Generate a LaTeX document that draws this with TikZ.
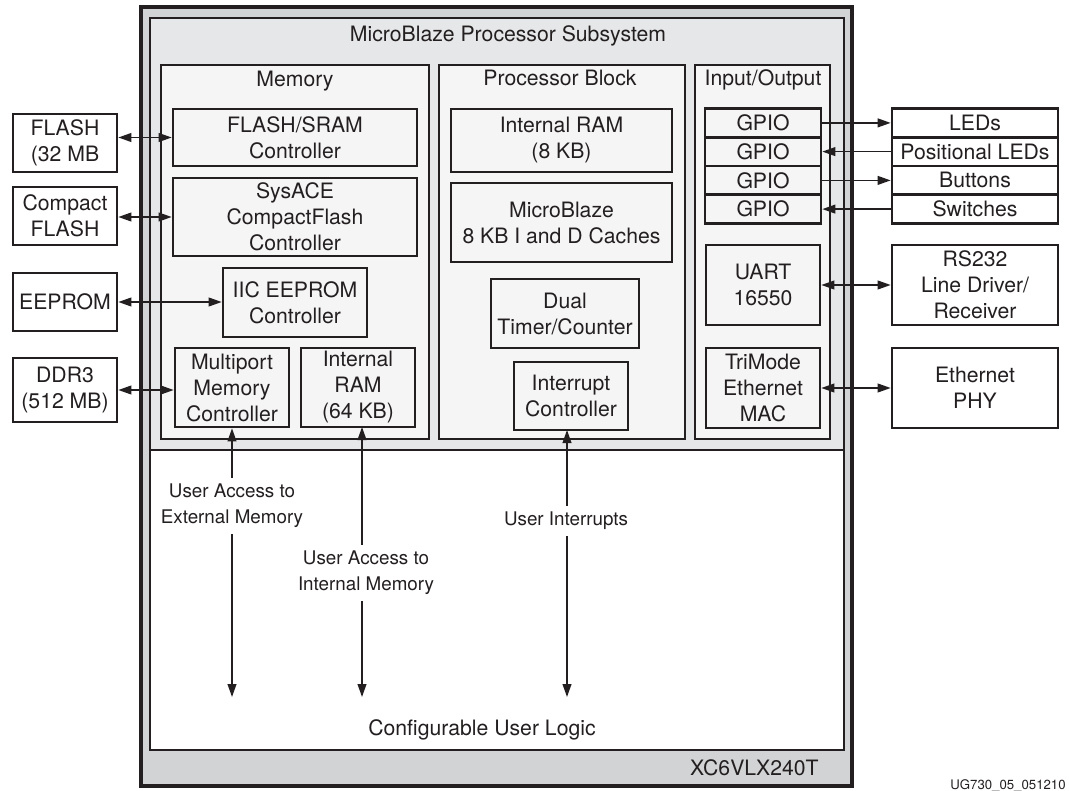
\documentclass[tikz,border=0pt]{standalone}
\usepackage{fontspec}
\setmainfont{TeX Gyre Heros}
\usetikzlibrary{arrows.meta}
\definecolor{lc}{HTML}{231F20}
\definecolor{outerg}{HTML}{D1D3D4}
\definecolor{subg}{HTML}{E6E7E8}
\definecolor{blkg}{HTML}{F5F5F5}
\tikzset{
  sz/.style 2 args={minimum width=#1*0.5pt, minimum height=#2*0.5pt},
  base/.style={draw=lc, line width=1.35pt, align=center, inner sep=0pt, text=lc,
    font=\fontsize{10.6pt}{13pt}\selectfont},
  blk/.style={base, fill=blkg},
  ext/.style={base, fill=white},
  ttl/.style={anchor=base, inner sep=0pt, text=lc, font=\fontsize{10.6pt}{13pt}\selectfont},
  lbl/.style={fill=white, inner xsep=1pt, inner ysep=3pt, align=center, text=lc,
    font=\fontsize{9.4pt}{13pt}\selectfont},
  conn/.style={draw=lc, line width=0.75pt},
  >={Triangle[length=6.5pt,width=4.4pt]}
}
\begin{document}
\begin{tikzpicture}[x=0.5pt,y=-0.5pt]
\useasboundingbox (0,0) rectangle (1069,791);
% containers
\node[base, fill=outerg, line width=1.6pt, sz={711}{779}] (fpga) at (496.5,396.5) {};
\node[base, fill=subg, sz={694}{432}] (subsys) at (497,234) {};
\node[base, fill=white, sz={694}{300}] (ulogic) at (497,600) {};
\node[blk, sz={268}{374}] (mem) at (295,252) {};
\node[blk, sz={246}{374}] (proc) at (562,252) {};
\node[blk, sz={135}{374}] (io) at (762.5,252) {};
% titles
\node[ttl] (tsub) at (508,42) {MicroBlaze Processor Subsystem};
\node[ttl] (tmem) at (295,87) {Memory};
\node[ttl] (tproc) at (560,86) {Processor Block};
\node[ttl] (tio) at (763,86) {Input/Output};
\node[ttl, anchor=east] (tdev) at (819,768) {XC6VLX240T};
\node[ttl, anchor=base] (tcul) at (482,735) {Configurable User Logic};
\node[anchor=east, inner sep=0pt, text=lc, font=\fontsize{6.6pt}{8pt}\selectfont] (tug) at (1066,786) {UG730\_05\_051210};
% memory blocks
\node[blk, sz={244}{57}] (fsc) at (295,137.5) {FLASH/SRAM\\Controller};
\node[blk, sz={244}{78}] (sysace) at (295,217) {SysACE\\CompactFlash\\Controller};
\node[blk, sz={144}{69}] (iic) at (295,302.5) {IIC EEPROM\\Controller};
\node[blk, sz={114}{79}] (mpmc) at (232,387.5) {Multiport\\Memory\\Controller};
\node[blk, sz={114}{79}] (iram64) at (358,387.5) {Internal\\RAM\\(64 KB)};
% processor blocks
\node[blk, sz={221}{63}] (iram8) at (561.5,140.5) {Internal RAM\\(8 KB)};
\node[blk, sz={221}{79}] (mb) at (561.5,222.5) {MicroBlaze\\8 KB I and D Caches};
\node[blk, sz={148}{69}] (timer) at (565,313.5) {Dual\\Timer/Counter};
\node[blk, sz={114}{68}] (intc) at (571,396) {Interrupt\\Controller};
% io blocks
\node[blk, sz={116}{28.75}] (gpio1) at (763,122.9) {GPIO};
\node[blk, sz={116}{28.75}] (gpio2) at (763,151.6) {GPIO};
\node[blk, sz={116}{28.75}] (gpio3) at (763,180.4) {GPIO};
\node[blk, sz={116}{28.75}] (gpio4) at (763,209.1) {GPIO};
\node[blk, sz={114}{80}] (uart) at (763,285) {UART\\16550};
\node[blk, sz={114}{80}] (temac) at (763,388) {TriMode\\Ethernet\\MAC};
% external left
\node[ext, sz={104}{58}] (flash) at (65,143) {FLASH\\(32 MB};
\node[ext, sz={104}{58}] (cf) at (65,216) {Compact\\FLASH};
\node[ext, sz={104}{58}] (eeprom) at (65,302) {EEPROM};
\node[ext, sz={104}{64}] (ddr) at (65,390) {DDR3\\(512 MB)};
% external right
\node[ext, sz={166}{28.75}] (leds) at (975,122.9) {LEDs};
\node[ext, sz={166}{28.75}] (pleds) at (975,151.6) {Positional LEDs};
\node[ext, sz={166}{28.75}] (btn) at (975,180.4) {Buttons};
\node[ext, sz={166}{28.75}] (sw) at (975,209.1) {Switches};
\node[ext, sz={166}{80}] (rs232) at (975,285) {RS232\\Line Driver/\\Receiver};
\node[ext, sz={166}{80}] (phy) at (975,388) {Ethernet\\PHY};
% horizontal connectors
\draw[conn,<->] (flash.east |- fsc.west) -- (fsc.west);
\draw[conn,<->] (cf.east |- sysace.west) -- (sysace.west);
\draw[conn,<->] (eeprom.east) -- (iic.west |- eeprom.east);
\draw[conn,<->] (ddr.east) -- (mpmc.west |- ddr.east);
\draw[conn,->] (gpio1.east) -- (leds.west);
\draw[conn,->] (pleds.west) -- (gpio2.east);
\draw[conn,->] (gpio3.east) -- (btn.west);
\draw[conn,->] (sw.west) -- (gpio4.east);
\draw[conn,<->] (uart.east) -- (rs232.west);
\draw[conn,<->] (temac.east) -- (phy.west);
% vertical connectors
\coordinate (e1) at (232,697);
\coordinate (s2) at (362,427);
\coordinate (e2) at (362,697);
\coordinate (s3) at (567,430);
\coordinate (e3) at (567,697);
\draw[conn,<->] (mpmc.south) -- (e1);
\draw[conn,<->] (s2) -- (e2);
\draw[conn,<->] (s3) -- (e3);
\node[lbl] (l1) at (232,506) {User Access to\\External Memory};
\node[lbl] (l2) at (366,573) {User Access to\\Internal Memory};
\node[lbl] (l3) at (566,521) {User Interrupts};
\end{tikzpicture}
\end{document}
